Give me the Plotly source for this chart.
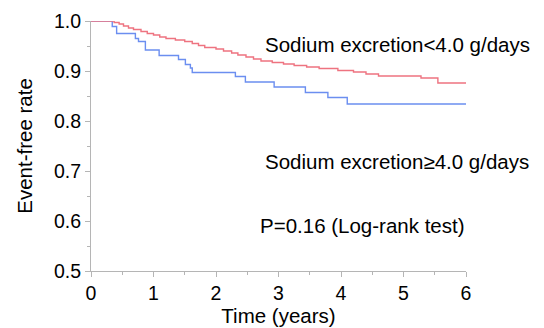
import plotly.graph_objects as go

# Sodium excretion < 4.0 g/days (red)
low_time = [0, 0.37, 0.45, 0.52, 0.60, 0.68, 0.80, 0.90, 1.00, 1.10, 1.20, 1.35, 1.50, 1.62, 1.72,
            1.82, 2.00, 2.12, 2.25, 2.35, 2.48, 2.60, 2.72, 2.90, 3.08, 3.25, 3.45, 3.65, 3.95,
            4.20, 4.40, 4.60, 5.28, 5.55, 6.0]
low_surv = [1.0, 0.997, 0.994, 0.990, 0.986, 0.983, 0.979, 0.975, 0.972, 0.968, 0.965, 0.962, 0.959,
            0.955, 0.951, 0.947, 0.944, 0.940, 0.936, 0.932, 0.928, 0.924, 0.920, 0.917, 0.914,
            0.911, 0.908, 0.905, 0.901, 0.898, 0.894, 0.890, 0.886, 0.876, 0.876]

# Sodium excretion >= 4.0 g/days (blue)
high_time = [0, 0.34, 0.41, 0.71, 0.76, 0.87, 1.09, 1.40, 1.51, 1.59, 1.62, 2.31, 2.47, 2.93,
             3.43, 3.79, 4.10, 6.0]
high_surv = [1.0, 0.989, 0.975, 0.965, 0.959, 0.942, 0.931, 0.923, 0.913, 0.906, 0.897, 0.889,
             0.878, 0.868, 0.857, 0.847, 0.834, 0.834]

x_ticks = [0, 1, 2, 3, 4, 5, 6]
y_ticks = [0.5, 0.6, 0.7, 0.8, 0.9, 1.0]
y_tick_labels = ["0.5", "0.6", "0.7", "0.8", "0.9", "1.0"]

label_low = "Sodium excretion<4.0 g/days"
label_high = "Sodium excretion≥4.0 g/days"
p_text = "P=0.16 (Log-rank test)"

FONT = "Liberation Sans, Arial, Helvetica, sans-serif"
AXIS_COLOR = "#b5b5b5"
TXT = 20.5
TICK = 19.5

fig = go.Figure()
fig.add_trace(go.Scatter(x=high_time, y=high_surv, mode="lines", line_shape="hv",
                         line=dict(color="#6b8ef0", width=1.4), name=label_high,
                         showlegend=False))
fig.add_trace(go.Scatter(x=low_time, y=low_surv, mode="lines", line_shape="hv",
                         line=dict(color="#ee7380", width=1.4), name=label_low,
                         showlegend=False))

for x, y, t in [(2.75, 0.953, label_low), (2.75, 0.72, label_high), (2.67, 0.592, p_text)]:
    fig.add_annotation(x=x, y=y, xref="x", yref="y", text=t, showarrow=False,
                       xanchor="left", yanchor="middle",
                       font=dict(size=TXT, color="black", family=FONT))

fig.update_layout(
    width=544, height=328,
    margin=dict(l=83, r=86, t=13, b=65),
    paper_bgcolor="white", plot_bgcolor="white",
    font=dict(family=FONT, size=TICK, color="black"),
    xaxis=dict(range=[0, 6], tickvals=x_ticks, ticks="outside", ticklen=5, tickcolor=AXIS_COLOR,
               showline=True, linecolor=AXIS_COLOR, linewidth=1, showgrid=False, zeroline=False,
               automargin=False,
               minor=dict(ticks="outside", ticklen=3, dtick=0.5, tickcolor=AXIS_COLOR),
               title=dict(text="Time (years)", standoff=0, font=dict(size=TXT)),
               tickfont=dict(size=TICK)),
    yaxis=dict(range=[0.5, 1.0], tickvals=y_ticks, ticktext=y_tick_labels, ticks="outside",
               ticklen=5, tickcolor=AXIS_COLOR, showline=True, linecolor=AXIS_COLOR, linewidth=1,
               showgrid=False, zeroline=False, automargin=False,
               minor=dict(ticks="outside", ticklen=3, dtick=0.05, tickcolor=AXIS_COLOR),
               title=dict(text="Event-free rate", standoff=15, font=dict(size=TXT)),
               tickfont=dict(size=TICK)),
)

fig.write_html("out.html")
